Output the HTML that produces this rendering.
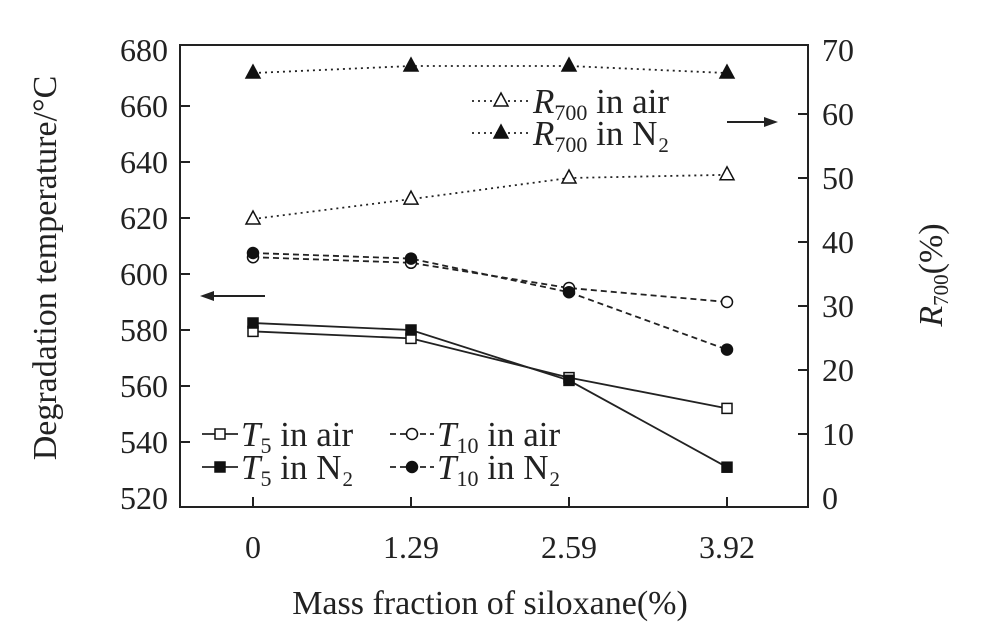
<!DOCTYPE html>
<html><head><meta charset="utf-8"><style>
body{margin:0;background:#fff;}
svg{display:block;font-family:"Liberation Serif",serif;}
</style></head><body>
<svg id="chart" width="1000" height="643" viewBox="0 0 1000 643"></svg>
<script>
const categories=["0","1.29","2.59","3.92"];
const t5Air=[579.5,577,563,552];
const t5N2=[582.5,580,562,531];
const t10Air=[606,604,595,590];
const t10N2=[607.5,605.5,593.5,573];
const r700Air=[43.6,46.7,50,50.5];
const r700N2=[66.4,67.5,67.5,66.4];
const leftTicks=[520,540,560,580,600,620,640,660,680];
const rightTicks=[0,10,20,30,40,50,60,70];

const svg=document.getElementById('chart');
const NS='http://www.w3.org/2000/svg';
const L=180,R=808,T=45,B=507;
const xs=i=>253+i*158;
const yL=v=>50+(680-v)*2.8;
const yR=v=>498-v*6.4;
function el(tag,attrs,name,text){const e=document.createElementNS(NS,tag);for(const k in attrs)e.setAttribute(k,attrs[k]);


if(text!==undefined)e.textContent=text;svg.appendChild(e);return e;}
el('rect',{x:L,y:T,width:R-L,height:B-T,fill:'none',stroke:'#222','stroke-width':2},'plot-frame');
leftTicks.forEach(v=>{const y=yL(v);
 if(v>520&&v<680)el('line',{x1:L,x2:L+10,y1:y,y2:y,stroke:'#222','stroke-width':2},'left-tick');
 el('text',{x:L-12,y:y+11,'font-size':32,'text-anchor':'end',fill:'#222'},'left-tick-label',v);});
rightTicks.forEach(v=>{const y=yR(v);
 if(v>0&&v<70)el('line',{x1:R-10,x2:R,y1:y,y2:y,stroke:'#222','stroke-width':2},'right-tick');
 el('text',{x:R+14,y:y+11,'font-size':32,'text-anchor':'start',fill:'#222'},'right-tick-label',v);});
categories.forEach((c,i)=>{el('line',{x1:xs(i),x2:xs(i),y1:B-10,y2:B,stroke:'#222','stroke-width':2},'x-tick');
 el('text',{x:xs(i),y:558,'font-size':32,'text-anchor':'middle',fill:'#222'},'x-tick-label',c);});
el('text',{x:490,y:614,'font-size':34,'text-anchor':'middle',fill:'#222'},'x-axis-title','Mass fraction of siloxane(%)');
el('text',{x:0,y:0,'font-size':34,'text-anchor':'middle',fill:'#222',transform:'translate(56,268) rotate(-90)'},'left-axis-title','Degradation temperature/°C');
const rt=el('text',{x:0,y:0,'font-size':34,'text-anchor':'middle',fill:'#222',transform:'translate(942,275) rotate(-90)'},'right-axis-title','');
rt.innerHTML='<tspan font-style="italic">R</tspan><tspan font-size="21" dy="6">700</tspan><tspan dy="-6">(%)</tspan>';

function marker(x,y,type,name){
 if(type==='sq'||type==='sqf')el('rect',{x:x-5,y:y-5,width:10,height:10,fill:type==='sqf'?'#111':'#fff',stroke:'#111','stroke-width':1.5},name);
 else if(type==='ci'||type==='cif')el('circle',{cx:x,cy:y,r:5.5,fill:type==='cif'?'#111':'#fff',stroke:'#111','stroke-width':1.5},name);
 else el('polygon',{points:`${x},${y-8} ${x-7},${y+5} ${x+7},${y+5}`,fill:type==='trf'?'#111':'#fff',stroke:'#111','stroke-width':1.5},name);}
function series(vals,ys,dash,mk,name){
 const pts=vals.map((v,i)=>xs(i)+','+ys(v)).join(' ');
 el('polyline',{points:pts,fill:'none',stroke:'#222','stroke-width':1.8,'stroke-dasharray':dash},name+'-line');
 vals.forEach((v,i)=>marker(xs(i),ys(v),mk,name+'-point'));}
series(r700N2,yR,'2,4','trf','r700-n2');
series(r700Air,yR,'2,4','tr','r700-air');
series(t10Air,yL,'6,4','ci','t10-air');
series(t10N2,yL,'6,4','cif','t10-n2');
series(t5Air,yL,'','sq','t5-air');
series(t5N2,yL,'','sqf','t5-n2');
el('line',{x1:265,x2:205,y1:296,y2:296,stroke:'#222','stroke-width':2},'left-arrow');
el('polygon',{points:'200,296 214,291 214,301',fill:'#222'},'left-arrow-head');
el('line',{x1:727,x2:772,y1:122,y2:122,stroke:'#222','stroke-width':2},'right-arrow');
el('polygon',{points:'778,122 764,117 764,127',fill:'#222'},'right-arrow-head');
function legendEntry(x,y,dash,mk,sub,tail,name,w){
 el('line',{x1:x,x2:x+w,y1:y,y2:y,stroke:'#222','stroke-width':1.8,'stroke-dasharray':dash},name+'-swatch');
 marker(x+w/2,y,mk,name+'-marker');
 const t=el('text',{x:x+w+3,y:y+12,'font-size':35,fill:'#222'},name,'');
 t.innerHTML=`<tspan font-style="italic">${sub[0]}</tspan><tspan font-size="22" dy="7">${sub[1]}</tspan><tspan dy="-7"> ${tail}</tspan>`;}
legendEntry(472,101,'2,4','tr',['R','700'],'in air','legend-r700-air',58);
legendEntry(472,133,'2,4','trf',['R','700'],'in N₂','legend-r700-n2',58);
legendEntry(202,434,'','sq',['T','5'],'in air','legend-t5-air',36);
legendEntry(202,467,'','sqf',['T','5'],'in N₂','legend-t5-n2',36);
legendEntry(390,434,'6,4','ci',['T','10'],'in air','legend-t10-air',44);
legendEntry(390,467,'6,4','cif',['T','10'],'in N₂','legend-t10-n2',44);
</script>
</body></html>
